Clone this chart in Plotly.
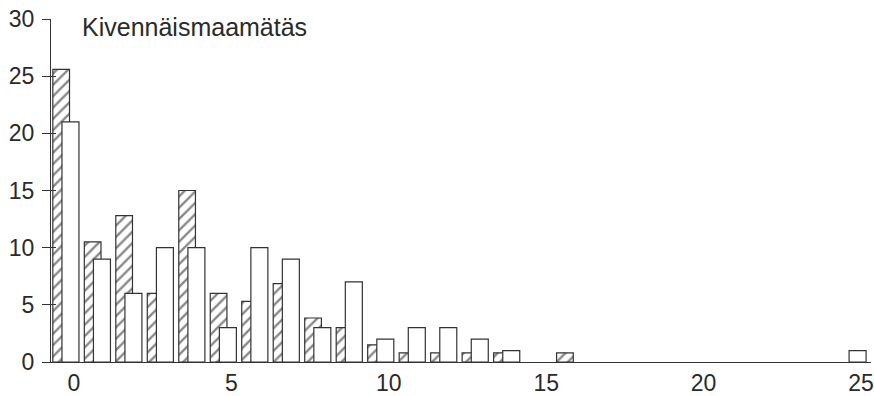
import plotly.graph_objects as go

# Data
categories = list(range(0, 26))
hatched_values = [25.6, 10.5, 12.8, 6.0, 15.0, 6.0, 5.3, 6.85, 3.85, 3.0, 1.5, 0.8, 0.8, 0.8,
                  0.8, 0, 0.8, 0, 0, 0, 0, 0, 0, 0, 0, 0]
open_values = [21.0, 9.0, 6.0, 10.0, 10.0, 3.0, 10.0, 9.0, 3.0, 7.0, 2.0, 3.0, 3.0, 2.0,
               1.0, 0, 0, 0, 0, 0, 0, 0, 0, 0, 0, 1.0]
x_ticks = [0, 5, 10, 15, 20, 25]
y_ticks = [0, 5, 10, 15, 20, 25, 30]
title_text = "Kivennäismaamätäs"

LINE = "#333333"
TEXT = "#2a2a2a"
FONT = "Liberation Sans, Arial, sans-serif"


def drop_zero(vals):
    return [v if v else None for v in vals]


fig = go.Figure()
fig.add_trace(go.Bar(
    x=categories, y=drop_zero(hatched_values), name="A",
    width=0.53, offset=-0.67,
    marker=dict(color="white", line=dict(color=LINE, width=1.2),
                pattern=dict(shape="/", fgcolor="#111111", bgcolor="white",
                             size=8, solidity=0.3)),
))
fig.add_trace(go.Bar(
    x=categories, y=drop_zero(open_values), name="B",
    width=0.54, offset=-0.38,
    marker=dict(color="white", line=dict(color=LINE, width=1.2)),
))

fig.update_layout(
    width=874, height=396,
    margin=dict(l=51, r=0, t=19, b=31),
    paper_bgcolor="white", plot_bgcolor="white",
    barmode="overlay", showlegend=False,
    font=dict(family=FONT, color=TEXT, size=22),
    xaxis=dict(range=[-0.728, 25.316], tickvals=x_ticks, showgrid=False, zeroline=False,
               showline=True, linecolor=LINE, linewidth=1, ticks="",
               ticklabeloverflow="allow",
               tickfont=dict(size=23, family=FONT, color=TEXT)),
    yaxis=dict(range=[0, 30], tickvals=y_ticks, showgrid=False, zeroline=False,
               showline=True, linecolor=LINE, linewidth=1, ticks="outside",
               ticklen=8, tickcolor=LINE, ticklabelstandoff=3,
               tickfont=dict(size=23, family=FONT, color=TEXT)),
    yaxis2=dict(range=[0, 30], tickvals=y_ticks, overlaying="y", anchor="x", side="left",
                showgrid=False, zeroline=False, showline=False, ticks="inside",
                ticklen=5, tickcolor=LINE, showticklabels=False),
    annotations=[dict(text=title_text, xref="paper", yref="paper", x=0.0352, y=0.977,
                      xanchor="left", yanchor="middle", showarrow=False,
                      font=dict(size=25, family=FONT, color=TEXT))],
)
# invisible trace to activate yaxis2
fig.add_trace(go.Scatter(x=[None], y=[None], yaxis="y2", showlegend=False, hoverinfo="skip"))

fig.write_html("out.html")
